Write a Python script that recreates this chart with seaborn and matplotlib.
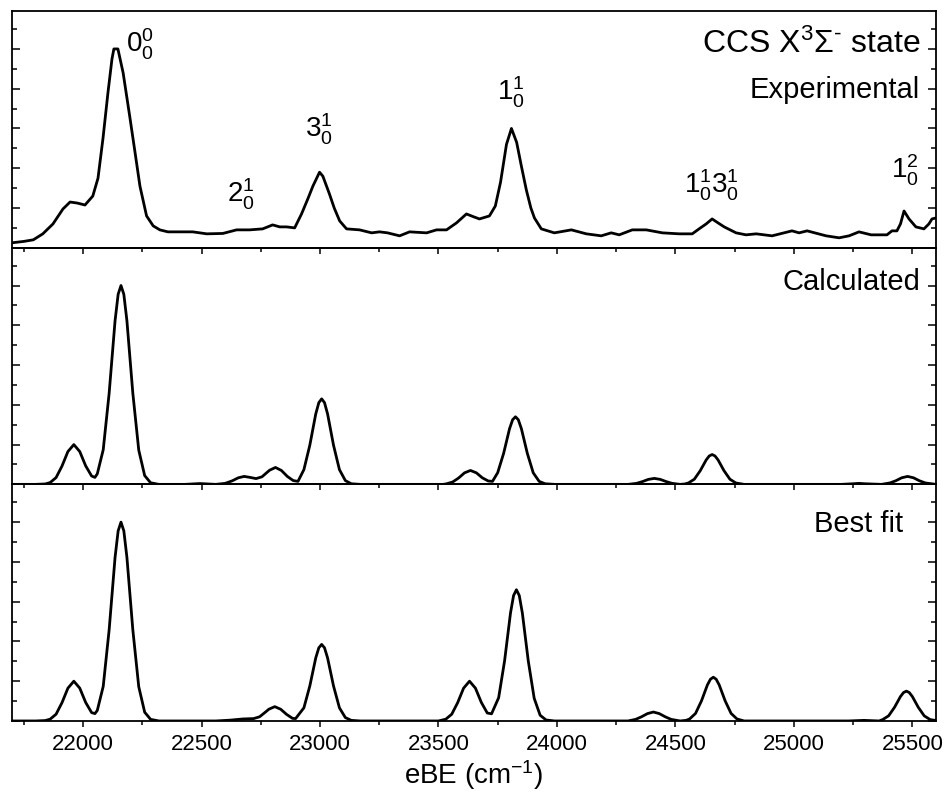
import numpy as np
import pandas as pd
import seaborn as sns
import matplotlib.pyplot as plt
from matplotlib.ticker import MultipleLocator

# experimental photoelectron spectrum
exp_ebe = [21700, 21750, 21790, 21830, 21873, 21915, 21945, 21975, 22008, 22041,
           22063, 22084, 22105, 22122, 22130, 22147, 22169, 22197, 22218, 22240,
           22268, 22296, 22324, 22358, 22410, 22463, 22522, 22590, 22648, 22703,
           22758, 22800, 22830, 22859, 22893, 22922, 22950, 22970, 22998, 23012,
           23040, 23060, 23083, 23112, 23167, 23218, 23251, 23285, 23336, 23378,
           23450, 23492, 23534, 23576, 23618, 23650, 23673, 23715, 23740, 23762,
           23787, 23808, 23830, 23850, 23871, 23890, 23905, 23934, 23989, 24061,
           24124, 24187, 24229, 24263, 24318, 24377, 24445, 24516, 24571, 24600,
           24630, 24655, 24680, 24706, 24756, 24798, 24841, 24908, 24992, 25022,
           25056, 25136, 25191, 25233, 25275, 25326, 25393, 25414, 25435, 25450,
           25465, 25486, 25515, 25549, 25570, 25583, 25600]
exp_int = [0.025, 0.032, 0.04, 0.07, 0.12, 0.195, 0.23, 0.225, 0.215, 0.26,
           0.35, 0.55, 0.78, 0.95, 1.0, 1.0, 0.88, 0.66, 0.49, 0.31,
           0.16, 0.11, 0.09, 0.08, 0.08, 0.08, 0.07, 0.072, 0.09, 0.09,
           0.095, 0.115, 0.105, 0.105, 0.10, 0.17, 0.25, 0.31, 0.38, 0.36,
           0.27, 0.20, 0.135, 0.095, 0.09, 0.075, 0.08, 0.075, 0.06, 0.08,
           0.075, 0.09, 0.09, 0.125, 0.17, 0.155, 0.145, 0.16, 0.21, 0.33,
           0.52, 0.60, 0.53, 0.41, 0.29, 0.20, 0.15, 0.095, 0.075, 0.09,
           0.07, 0.06, 0.075, 0.065, 0.09, 0.09, 0.075, 0.07, 0.07, 0.095,
           0.12, 0.145, 0.125, 0.105, 0.075, 0.065, 0.07, 0.06, 0.085, 0.075,
           0.085, 0.06, 0.05, 0.06, 0.08, 0.065, 0.065, 0.085, 0.085, 0.12,
           0.185, 0.145, 0.105, 0.095, 0.12, 0.145, 0.15]

# calculated (Franck-Condon) spectrum
calc_ebe = [21700, 21800, 21840, 21861, 21886, 21911, 21936, 21961, 21986, 22011,
            22036, 22050, 22060, 22085, 22110, 22135, 22148, 22160, 22172, 22185,
            22210, 22235, 22260, 22285, 22320, 22430, 22493, 22560, 22600, 22630,
            22655, 22680, 22705, 22730, 22755, 22787, 22812, 22837, 22862, 22887,
            22907, 22932, 22957, 22982, 22995, 23007, 23019, 23032, 23057, 23082,
            23107, 23132, 23170, 23520, 23535, 23560, 23585, 23610, 23635, 23660,
            23685, 23710, 23728, 23750, 23775, 23800, 23813, 23825, 23837, 23850,
            23875, 23900, 23925, 23950, 23990, 24300, 24336, 24361, 24386, 24411,
            24436, 24461, 24486, 24520, 24540, 24555, 24580, 24605, 24630, 24643,
            24655, 24667, 24680, 24705, 24730, 24755, 24790, 25200, 25250, 25275,
            25300, 25370, 25405, 25430, 25455, 25480, 25505, 25530, 25555, 25600]
calc_int = [0.0, 0.0, 0.002, 0.009, 0.034, 0.092, 0.165, 0.20, 0.165, 0.093,
            0.042, 0.035, 0.053, 0.174, 0.458, 0.823, 0.956, 1.0, 0.956, 0.823,
            0.458, 0.172, 0.044, 0.008, 0.0, 0.0, 0.004, 0.0, 0.005, 0.018,
            0.033, 0.040, 0.035, 0.029, 0.038, 0.071, 0.085, 0.070, 0.040, 0.019,
            0.015, 0.074, 0.197, 0.354, 0.411, 0.43, 0.411, 0.354, 0.197, 0.074,
            0.019, 0.003, 0.0, 0.0, 0.003, 0.012, 0.032, 0.058, 0.07, 0.058,
            0.033, 0.017, 0.015, 0.059, 0.156, 0.280, 0.325, 0.34, 0.325, 0.280,
            0.156, 0.058, 0.015, 0.003, 0.0, 0.0, 0.005, 0.014, 0.025, 0.03,
            0.025, 0.014, 0.005, 0.0, 0.002, 0.007, 0.026, 0.069, 0.123, 0.143,
            0.15, 0.143, 0.123, 0.069, 0.026, 0.007, 0.0, 0.0, 0.003, 0.005,
            0.003, 0.0, 0.007, 0.018, 0.033, 0.04, 0.033, 0.018, 0.007, 0.0]

# best-fit spectrum
fit_ebe = [21700, 21800, 21840, 21861, 21886, 21911, 21936, 21961, 21986, 22011,
           22036, 22050, 22060, 22085, 22110, 22135, 22148, 22160, 22172, 22185,
           22210, 22235, 22260, 22285, 22320, 22560, 22620, 22674, 22720, 22745,
           22770, 22784, 22809, 22834, 22859, 22884, 22897, 22932, 22957, 22982,
           22995, 23007, 23019, 23032, 23057, 23082, 23107, 23132, 23170, 23500,
           23531, 23556, 23581, 23606, 23631, 23656, 23681, 23706, 23724, 23754,
           23779, 23804, 23817, 23829, 23841, 23854, 23879, 23904, 23929, 23954,
           23990, 24300, 24332, 24357, 24382, 24407, 24432, 24457, 24482, 24520,
           24545, 24560, 24585, 24610, 24635, 24648, 24660, 24672, 24685, 24710,
           24735, 24760, 24790, 25230, 25296, 25360, 25375, 25400, 25425, 25450,
           25463, 25475, 25487, 25500, 25525, 25550, 25575, 25600]
fit_int = [0.0, 0.0, 0.002, 0.009, 0.034, 0.092, 0.165, 0.20, 0.165, 0.093,
           0.042, 0.037, 0.053, 0.174, 0.458, 0.823, 0.956, 1.0, 0.956, 0.823,
           0.458, 0.172, 0.044, 0.008, 0.0, 0.0, 0.004, 0.01, 0.012, 0.021,
           0.045, 0.059, 0.072, 0.059, 0.033, 0.013, 0.012, 0.066, 0.176, 0.317,
           0.368, 0.385, 0.368, 0.317, 0.176, 0.066, 0.017, 0.003, 0.0, 0.0,
           0.009, 0.034, 0.092, 0.165, 0.20, 0.165, 0.093, 0.040, 0.036, 0.117,
           0.302, 0.543, 0.631, 0.66, 0.631, 0.543, 0.302, 0.114, 0.029, 0.005,
           0.0, 0.0, 0.008, 0.021, 0.037, 0.045, 0.037, 0.021, 0.008, 0.0,
           0.003, 0.010, 0.038, 0.101, 0.181, 0.21, 0.22, 0.21, 0.181, 0.101,
           0.038, 0.010, 0.0, 0.0, 0.003, 0.0, 0.007, 0.026, 0.069, 0.123,
           0.143, 0.15, 0.143, 0.123, 0.069, 0.026, 0.007, 0.002]

# vibronic assignments in the experimental panel
peak_labels = ['$0^0_0$', '$2^1_0$', '$3^1_0$', '$1^1_0$', '$1^1_03^1_0$', '$1^2_0$']
peak_x = [22181, 22606, 22935, 23745, 24537, 25410]
peak_y = [0.98, 0.226, 0.555, 0.742, 0.272, 0.347]

panel_names = ['Experimental', 'Calculated', 'Best fit']
panel_name_x = [0.983, 0.983, 0.964]
panel_name_y = [0.635, 0.82, 0.80]

sns.set_style('ticks')
plt.rcParams['font.family'] = ['Liberation Sans', 'DejaVu Sans']
plt.rcParams['mathtext.default'] = 'regular'
for key in ['text.color', 'axes.labelcolor', 'xtick.color', 'ytick.color',
            'axes.edgecolor']:
    plt.rcParams[key] = 'black'

spectra = [pd.DataFrame({'eBE': exp_ebe, 'I': exp_int}),
           pd.DataFrame({'eBE': calc_ebe, 'I': calc_int}),
           pd.DataFrame({'eBE': fit_ebe, 'I': fit_int})]

fig, axes = plt.subplots(3, 1, sharex=True, figsize=(9.45, 7.97), dpi=100)
fig.subplots_adjust(left=0.0127, right=0.9905, top=0.986, bottom=0.0954, hspace=0)

for i, (ax, df, name) in enumerate(zip(axes, spectra, panel_names)):
    ax.patch.set_alpha(0)
    sns.lineplot(data=df, x='eBE', y='I', ax=ax, color='black', linewidth=2.0,
                 estimator=None)
    ax.set_xlim(21700, 25600)
    ax.set_ylim(0, 1.19)
    ax.set_xlabel('')
    ax.set_ylabel('')
    for s in ax.spines.values():
        s.set_visible(True)
        s.set_linewidth(1.3)
        s.set_color('black')
    ax.yaxis.set_major_locator(MultipleLocator(0.2))
    ax.yaxis.set_minor_locator(MultipleLocator(0.1))
    ax.xaxis.set_major_locator(MultipleLocator(500))
    ax.xaxis.set_minor_locator(MultipleLocator(250))
    ax.tick_params(axis='y', which='both', direction='in', left=True, right=True,
                   labelleft=False, width=1.1, color='black')
    ax.tick_params(axis='y', which='major', length=6)
    ax.tick_params(axis='y', which='minor', length=3.6)
    ax.tick_params(axis='x', which='both', direction='out', bottom=True, top=False,
                   width=1.1, color='black')
    ax.tick_params(axis='x', which='major', length=4.5)
    ax.tick_params(axis='x', which='minor', length=3)
    ax.text(panel_name_x[i], panel_name_y[i], name, transform=ax.transAxes,
            ha='right', va='baseline', fontsize=21, color='black')

axes[0].text(0.983, 0.822, 'CCS X$^3$Σ$^{‐}$ state', transform=axes[0].transAxes,
             ha='right', va='baseline', fontsize=23, color='black')

for lab, x, y in zip(peak_labels, peak_x, peak_y):
    axes[0].text(x, y, lab, ha='left', va='baseline', fontsize=20, color='black')

axes[2].tick_params(axis='x', which='major', labelsize=16, pad=5, labelcolor='black')
axes[2].set_xlabel('eBE (cm$^{-1}$)', fontsize=20, labelpad=2, color='black')

plt.savefig('out.png', dpi=100)
